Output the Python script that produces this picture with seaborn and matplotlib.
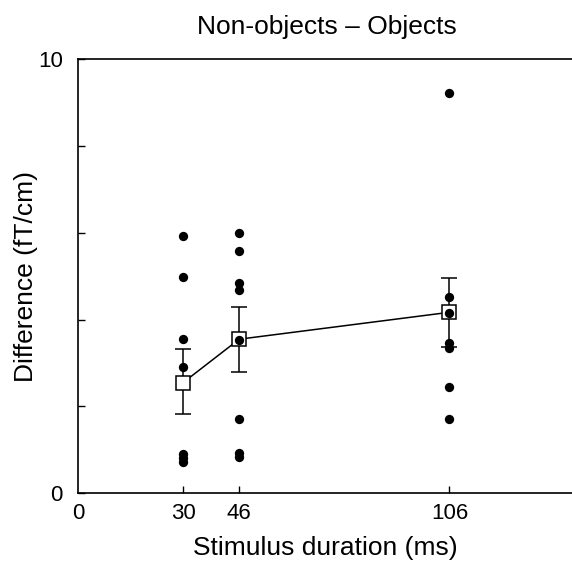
import matplotlib
matplotlib.use("Agg")
import matplotlib.pyplot as plt
import seaborn as sns
import pandas as pd
import numpy as np

# Individual subject values
dur_30 = [5.93, 4.99, 3.55, 2.92, 0.91, 0.81, 0.72]
dur_46 = [5.99, 5.59, 4.84, 4.68, 3.53, 1.71, 0.92, 0.83]
dur_106 = [9.23, 4.53, 4.15, 3.46, 3.34, 2.44, 1.71]

durations = [30, 46, 106]
means = [2.55, 3.55, 4.17]
err_low = [1.83, 2.79, 3.36]
err_high = [3.32, 4.29, 4.97]

x_ticks = [0, 30, 46, 106]
y_ticks = [0, 2, 4, 6, 8, 10]
y_ticklabels = ["0", "", "", "", "", "10"]

title = "Non-objects \u2013 Objects"
xlabel = "Stimulus duration (ms)"
ylabel = "Difference (fT/cm)"

sns.set_theme(style="white")
plt.rcParams["font.family"] = ["Liberation Sans", "DejaVu Sans"]

pts = pd.DataFrame({
    "duration": [30] * len(dur_30) + [46] * len(dur_46) + [106] * len(dur_106),
    "value": dur_30 + dur_46 + dur_106,
})
mdf = pd.DataFrame({"duration": durations, "mean": means})

fig = plt.figure(figsize=(5.72, 5.64), dpi=100)
ax = fig.add_axes([0.1364, 0.1254, 0.8636, 0.7695])

yerr = np.array([np.array(means) - np.array(err_low), np.array(err_high) - np.array(means)])
ax.errorbar(durations, means, yerr=yerr, fmt="none", ecolor="black", elinewidth=1.1,
            capsize=6, capthick=1.1, zorder=2)
sns.lineplot(data=mdf, x="duration", y="mean", ax=ax, color="black", linewidth=1.1,
             marker="s", markersize=10, markerfacecolor="white", markeredgecolor="black",
             markeredgewidth=1.1, zorder=3)
sns.scatterplot(data=pts, x="duration", y="value", ax=ax, color="black", s=45,
                edgecolor="black", linewidth=0, zorder=4)

ax.set_xlim(0, 141)
ax.set_ylim(0, 10)
ax.set_xticks(x_ticks)
ax.set_xticklabels([str(t) for t in x_ticks], fontsize=16)
ax.set_yticks(y_ticks)
ax.set_yticklabels(y_ticklabels, fontsize=16)
ax.tick_params(axis="both", direction="in", length=5, width=1, colors="black",
               bottom=True, left=True, pad=7)
ax.tick_params(axis="y", pad=11)
ax.xaxis.get_major_ticks()[0].tick1line.set_visible(False)

for s in ["top", "left", "bottom"]:
    ax.spines[s].set_color("black")
    ax.spines[s].set_linewidth(1.2)
ax.spines["right"].set_visible(False)

ax.set_xlabel(xlabel, fontsize=19, labelpad=9, color="black")
ax.set_ylabel(ylabel, fontsize=19, labelpad=0, color="black")
fig.text(0.572, 0.952, title, ha="center", va="center", fontsize=19, color="black")

fig.savefig("out.png", dpi=100)
